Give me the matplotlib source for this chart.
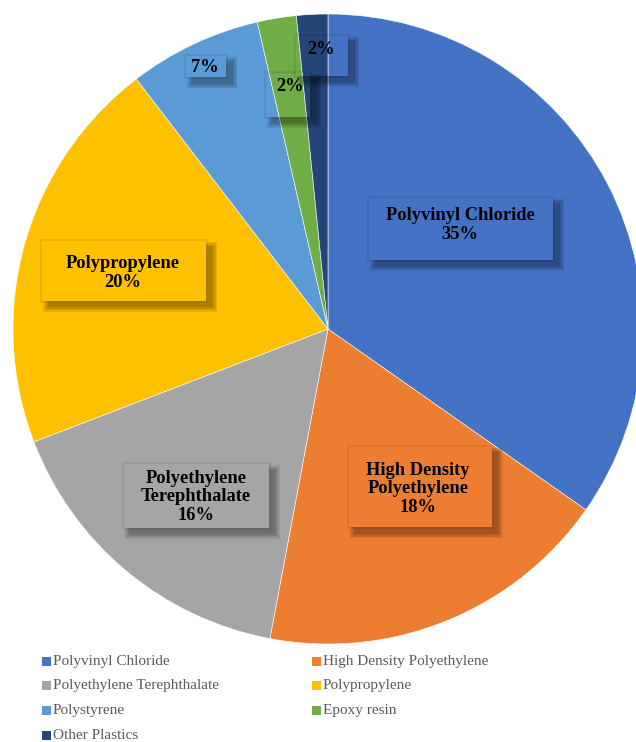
import matplotlib
matplotlib.use("Agg")
import matplotlib.pyplot as plt
from matplotlib.patches import Rectangle, Polygon, PathPatch
from matplotlib.path import Path

# data
categories = ["Polyvinyl Chloride", "High Density Polyethylene",
              "Polyethylene Terephthalate", "Polypropylene", "Polystyrene",
              "Epoxy resin", "Other Plastics"]
label_names = ["Polyvinyl Chloride", "High Density\nPolyethylene",
               "Polyethylene\nTerephthalate", "Polypropylene", "", "", ""]
values = [34.7, 18.2, 16.2, 20.4, 6.8, 2.0, 1.6]
colors = ["#4472C4", "#ED7D31", "#A5A5A5", "#FFC000", "#5B9BD5", "#70AD47", "#264478"]

# label boxes (pixel layout: center x, center y, width, height) and text centers
boxes = [(461, 229, 184, 62), (420, 487, 143, 80), (196, 496, 145, 63),
         (124, 271, 164, 60), (206, 67, 40, 21), (288, 95, 44, 44),
         (322, 56, 52, 40)]
text_pos = [(460, 225), (418, 489), (196, 497), (123, 273), (205, 68),
            (290, 87), (321, 50)]

W, H = 636, 742
CX, CY, R = 328, 329, 315

plt.rcParams['font.family'] = ['Liberation Serif', 'DejaVu Serif']
fig = plt.figure(figsize=(W / 100, H / 100), dpi=100)
ax = fig.add_axes([(CX - R) / W, (H - (CY + R)) / H, 2 * R / W, 2 * R / H])
ax.pie(values, colors=colors, startangle=90, counterclock=False, radius=1,
       wedgeprops=dict(edgecolor="white", linewidth=0.4))
ax.set_xlim(-1, 1)
ax.set_ylim(-1, 1)
ax.axis("off")


def px(x, y):
    return (x - CX) / R, (CY - y) / R


def rect_verts(x0, y0, x1, y1):
    return [px(x0, y0), px(x1, y0), px(x1, y1), px(x0, y1), px(x0, y0)]


codes = [Path.MOVETO] + [Path.LINETO] * 3 + [Path.CLOSEPOLY]
total = sum(values)
for i, (cx, cy, w, h) in enumerate(boxes):
    bx0, by0, bx1, by1 = cx - w / 2, cy - h / 2, cx + w / 2, cy + h / 2
    # faint glow on all sides
    ring = Path(rect_verts(bx0 - 2, by0 - 2, bx1 + 2, by1 + 2)
                + rect_verts(bx0, by0, bx1, by1)[::-1], codes + codes)
    ax.add_patch(PathPatch(ring, facecolor="black", alpha=0.07, linewidth=0,
                           zorder=3))
    # soft shadow to the lower right, outside the (unfilled) label box
    for s in [10, 7, 4, 1]:
        o = 6
        sx0, sy0 = bx0 + o - s / 2, by0 + o - s / 2
        sx1, sy1 = bx1 + o + s / 2, by1 + o + s / 2
        pts = [px(bx1, sy0), px(sx1, sy0), px(sx1, sy1), px(sx0, sy1),
               px(sx0, by1), px(bx1, by1)]
        ax.add_patch(Polygon(pts, closed=True, facecolor="black", alpha=0.09,
                             linewidth=0, zorder=3))
    pct = "{:.0f}%".format(values[i] / total * 100)
    txt = label_names[i] + "\n" + pct if label_names[i] else pct
    tx, ty = px(*text_pos[i])
    ax.text(tx, ty, txt, ha="center", va="center", fontsize=13.3,
            fontweight="bold", color="black", linespacing=1.15, zorder=5)

# legend, drawn row-wise in two columns
for i, name in enumerate(categories):
    row, col = i // 2, i % 2
    lx = 42 if col == 0 else 312
    ly = 661 + row * 24.7
    fig.patches.append(Rectangle((lx / W, (H - ly - 4.5) / H), 8.5 / W, 9 / H,
                                 facecolor=colors[i], edgecolor="none",
                                 transform=fig.transFigure, figure=fig))
    fig.text((lx + 11) / W, (H - ly) / H, name, ha="left", va="center",
             fontsize=11, color="#595959")

fig.savefig("out.png", dpi=100)
